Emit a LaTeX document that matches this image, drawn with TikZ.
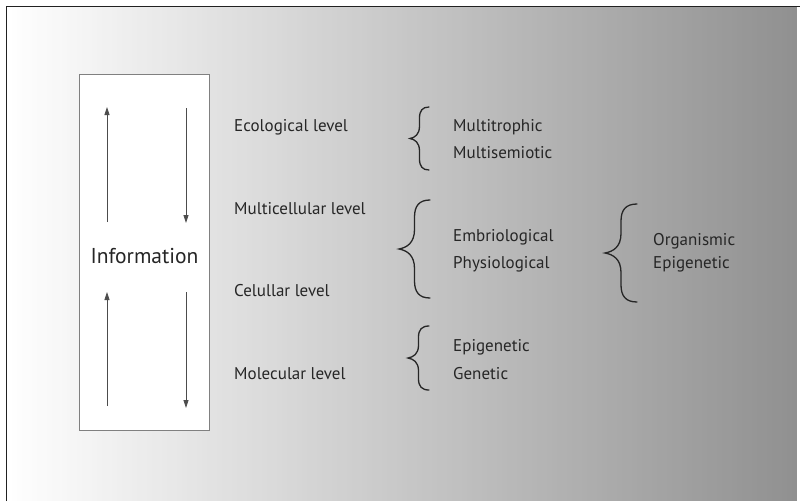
\documentclass[tikz,border=0pt]{standalone}
\usepackage{fontspec}
\setmainfont{PT Sans}
\usetikzlibrary{arrows.meta}

\definecolor{ink}{gray}{0.15}
\definecolor{rimgray}{gray}{0.13}
\definecolor{boxgray}{gray}{0.5}

\tikzset{
  label/.style={anchor=base west, inner sep=0pt, text=ink,
                font=\fontsize{17}{20}\selectfont},
  title/.style={anchor=base, inner sep=0pt, text=ink,
                font=\fontsize{21.5}{24}\selectfont},
  flow/.style={draw=black!70, line width=0.8pt,
               -{Triangle[length=8pt,width=5pt]}},
  bracestyle/.style={draw=ink, line width=1.3pt, line cap=round, line join=miter},
  frame/.style={draw=rimgray, line width=1.4pt},
}

% curly brace opening to the right: right x, tip x, top y, bottom y
\newcommand\openbrace[4]{%
  \pgfmathsetmacro\bxm{(#1+#2)/2}%
  \pgfmathsetmacro\bym{(#3+#4)/2}%
  \pgfmathsetmacro\bh{(#4-#3)/2}%
  \pgfmathsetmacro\bxc{\bxm+0.15*(#1-#2)}%
  \pgfmathsetmacro\bxt{#2+0.25*(#1-#2)}%
  \pgfmathsetmacro\byA{#3+0.12*\bh}%
  \pgfmathsetmacro\byB{#3+0.35*\bh}%
  \pgfmathsetmacro\byC{\bym-0.4*\bh}%
  \pgfmathsetmacro\byD{\bym-0.12*\bh}%
  \pgfmathsetmacro\byE{\bym-0.03*\bh}%
  \pgfmathsetmacro\byF{\bym+0.03*\bh}%
  \pgfmathsetmacro\byG{\bym+0.12*\bh}%
  \pgfmathsetmacro\byH{\bym+0.4*\bh}%
  \pgfmathsetmacro\byI{#4-0.35*\bh}%
  \pgfmathsetmacro\byJ{#4-0.12*\bh}%
  \draw[bracestyle]
    (#1,#3) .. controls (\bxc,#3) and (\bxm,\byA) .. (\bxm,\byB)
    -- (\bxm,\byC)
    .. controls (\bxm,\byD) and (\bxt,\byE) .. (#2,\bym)
    .. controls (\bxt,\byF) and (\bxm,\byG) .. (\bxm,\byH)
    -- (\bxm,\byI)
    .. controls (\bxm,\byJ) and (\bxc,#4) .. (#1,#4);%
}

\begin{document}
\begin{tikzpicture}[x=1pt, y=-1pt]
  \useasboundingbox (0,0) rectangle (800,501);

  % backdrop: even ramp from white to mid grey, laid down in thin strips
  \foreach \i in {0,...,157} {
    \pgfmathsetmacro\xa{6.5+5*\i}
    \pgfmathsetmacro\xb{\xa+5.6}
    \pgfmathsetmacro\g{43.5*(\i+0.5)/158}
    \fill[black!\g] (\xa,6.5) rectangle (\xb,501);
  }
  \draw[frame] (6.5,501) -- (6.5,6.5) -- (800,6.5);

  % information column
  \node[draw=boxgray, fill=white, line width=1pt, inner sep=0pt,
        minimum width=130pt, minimum height=356pt, anchor=north west]
        (infobox) at (79,74) {};
  \node[title] (info) at (144.5,263) {Information};

  \coordinate (upAfrom) at (107,222);   \coordinate (upAto) at (107,107);
  \coordinate (dnAfrom) at (186,108);   \coordinate (dnAto) at (186,223);
  \coordinate (upBfrom) at (107,406);   \coordinate (upBto) at (107,292);
  \coordinate (dnBfrom) at (186,292);   \coordinate (dnBto) at (186,408);
  \draw[flow] (upAfrom) -- (upAto);
  \draw[flow] (dnAfrom) -- (dnAto);
  \draw[flow] (upBfrom) -- (upBto);
  \draw[flow] (dnBfrom) -- (dnBto);

  % levels
  \node[label] (eco)   at (234,131) {Ecological level};
  \node[label] (multi) at (234,214) {Multicellular level};
  \node[label] (cell)  at (234,296) {Celullar level};
  \node[label] (mol)   at (234,379) {Molecular level};

  % groupings
  \openbrace{429}{410}{107}{170}
  \node[label] (mtro) at (453,131) {Multitrophic};
  \node[label] (msem) at (453,158) {Multisemiotic};

  \openbrace{430}{399}{200}{298}
  \node[label] (embr) at (453,241) {Embriological};
  \node[label] (phys) at (453,268) {Physiological};

  \openbrace{637}{605}{204}{302}
  \node[label] (orga) at (653,245) {Organismic};
  \node[label] (epiB) at (653,268) {Epigenetic};

  \openbrace{429}{408}{326}{390}
  \node[label] (epiA) at (453,351) {Epigenetic};
  \node[label] (gene) at (453,379) {Genetic};
\end{tikzpicture}
\end{document}
